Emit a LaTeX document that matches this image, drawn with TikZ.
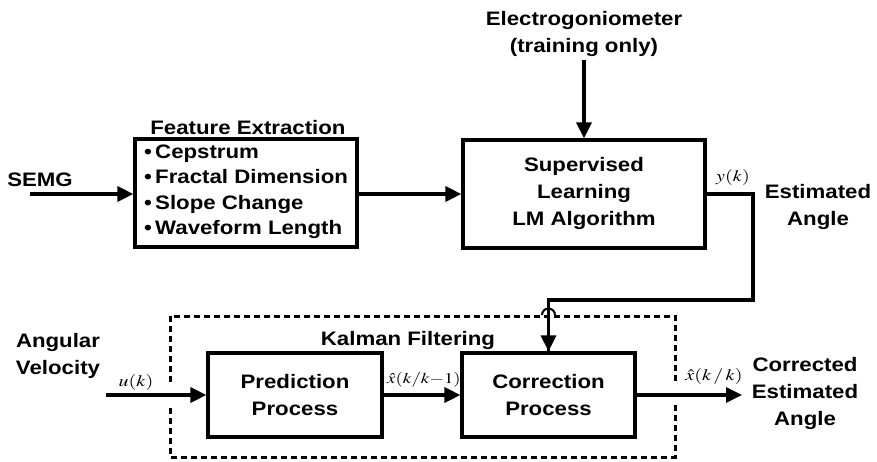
\documentclass[tikz,border=0pt]{standalone}
\usepackage{mathptmx}
\usepackage{graphicx}
\usepackage{fontspec}
\setsansfont{Liberation Sans}[FakeStretch=1.14]
\usetikzlibrary{arrows.meta}
\newcommand{\wideM}[1]{\scalebox{1.25}[1]{#1}}
\begin{document}
\begin{tikzpicture}[x=1pt,y=-1pt,
  lbl/.style={font=\sffamily\bfseries\fontsize{19.5}{27}\selectfont, align=center, inner sep=0pt},
  blk/.style={draw, line width=3.2pt, inner sep=0pt},
  arr/.style={line width=3.2pt, -{Triangle[length=16pt,width=15pt]}},
  wire/.style={line width=3.2pt},
  dsh/.style={line width=3pt, dash pattern=on 6pt off 4pt},
  mth/.style={font=\fontsize{16}{18}\selectfont, inner sep=0pt}]
\useasboundingbox (0,0) rectangle (877,462);

% blocks
\node[blk, minimum width=222pt, minimum height=108pt] (fe) at (246,193) {};
\node[lbl, anchor=south] (fet) at (248,135) {Feature Extraction};
\node[lbl, anchor=west, align=left, font=\sffamily\bfseries\fontsize{19.5}{25.5}\selectfont] (fel) at (144,192)
  {\textbullet\,Cepstrum\\\textbullet\,Fractal Dimension\\\textbullet\,Slope Change\\\textbullet\,Waveform Length};
\node[blk, lbl, minimum width=242pt, minimum height=108pt] (sl) at (584,194) {Supervised\\Learning\\LM Algorithm};
\node[blk, lbl, minimum width=174pt, minimum height=84pt] (pp) at (295,395) {Prediction\\Process};
\node[blk, lbl, minimum width=173pt, minimum height=84pt] (cp) at (548.5,395) {Correction\\Process};

% labels
\node[lbl] (semg) at (40,180) {SEMG};
\node[lbl] (eg) at (584,34) {Electrogoniometer\\(training only)};
\node[lbl] (ea) at (818,207) {Estimated\\Angle};
\node[lbl] (av) at (58,356) {Angular\\Velocity};
\node[lbl] (cea) at (805,393) {Corrected\\Estimated\\Angle};
\node[lbl] (kf) at (408,340) {Kalman Filtering};
\node[mth] (yk) at (733,178) {\wideM{$y(k)$}};
\node[mth] (uk) at (136,382) {\wideM{$u(k)$}};
\node[mth, font=\fontsize{15}{18}\selectfont] (xp) at (424,380) {\wideM{$\hat{x}(k/k{-}1)$}};
\node[mth] (xc) at (714,376) {\wideM{$\hat{x}(k\,/\,k)$}};

% coordinates
\coordinate (semgS) at (30,194);
\coordinate (egS) at (584,60);
\coordinate (r1) at (753,194);
\coordinate (r2) at (753,300);
\coordinate (r3) at (548.5,300);
\coordinate (ukS) at (106,395);
\coordinate (outE) at (742,395);

% connectors
\draw[arr] (semgS) -- (fe.west |- semgS);
\draw[arr] (fe.east |- semgS) -- (sl.west |- semgS);
\draw[arr] (egS) -- (sl.north);
\draw[wire] (sl.east |- r1) -- (r1) -- (r2) -- (r3) -- (r3 |- cp.north);
\draw[arr] (r3) -- (cp.north);
\draw[arr] (ukS) -- (pp.west);
\draw[arr] (pp.east) -- (cp.west);
\draw[arr] (cp.east) -- (outE);

% dashed Kalman box
\draw[dsh] (170,382) -- (170,316) -- (675,316) -- (675,381);
\draw[dsh] (675,405) -- (675,457) -- (170,457) -- (170,405);
\draw[line width=2pt] (542,315) arc[start angle=180, end angle=360, radius=6.5];
\end{tikzpicture}
\end{document}
